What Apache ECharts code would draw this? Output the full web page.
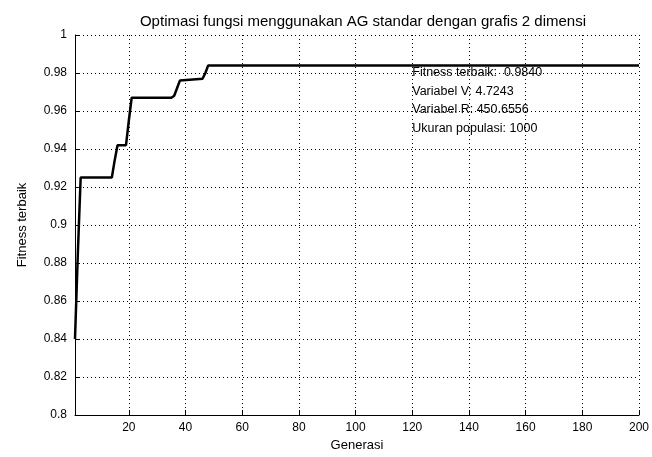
<!DOCTYPE html>
<html><head><meta charset="utf-8">
<script src="https://cdn.jsdelivr.net/npm/echarts@6/dist/echarts.min.js"></script>
<style>html,body{margin:0;padding:0;background:#fff}#c{width:652px;height:457px}</style>
</head><body><div id="c"></div>
<script>
const generations = [1, 2, 3, 14, 15, 16, 19, 20, 21, 35, 36, 37, 38, 46, 47, 48, 200];
const fitness = [0.840, 0.885, 0.925, 0.925, 0.934, 0.942, 0.942, 0.955, 0.967, 0.967, 0.968, 0.972, 0.976, 0.977, 0.980, 0.984, 0.984];
const xTicks = [20, 40, 60, 80, 100, 120, 140, 160, 180, 200];
const titleText = 'Optimasi fungsi menggunakan AG standar dengan grafis 2 dimensi';
const xName = 'Generasi';
const yName = 'Fitness terbaik';
const annotationLines = ['Fitness terbaik:  0.9840', 'Variabel V: 4.7243', 'Variabel R: 450.6556', 'Ukuran populasi: 1000'];
const annotationAnchor = [120, 0.98];

const FONT = 'Liberation Sans, Arial, sans-serif';
const chart = echarts.init(document.getElementById('c'), null, {renderer: 'canvas'});
const dotted = {color: '#000', width: 1, type: [1, 3]};

chart.setOption({
  animation: false,
  backgroundColor: '#fff',
  title: {
    text: titleText, left: 358, top: 9, textAlign: 'center',
    textStyle: {fontFamily: FONT, fontSize: 15, fontWeight: 'normal', color: '#000'}
  },
  grid: {left: 75, right: 11, top: 35, bottom: 42, containLabel: false},
  xAxis: {
    type: 'value', min: 1, max: 200,
    name: xName, nameLocation: 'middle', nameGap: 20,
    nameTextStyle: {fontFamily: FONT, fontSize: 13, color: '#000'},
    axisLine: {show: true, onZero: false, lineStyle: {color: '#000', width: 1}},
    axisTick: {show: true, inside: true, length: 5, customValues: xTicks, lineStyle: {color: '#000'}},
    axisLabel: {customValues: xTicks, margin: 7, fontFamily: FONT, fontSize: 12, color: '#000'},
    splitLine: {show: true, lineStyle: dotted}
  },
  yAxis: {
    type: 'value', min: 0.8, max: 1, interval: 0.02,
    name: yName, nameLocation: 'middle', nameGap: 46, nameRotate: 90,
    nameTextStyle: {fontFamily: FONT, fontSize: 13, color: '#000'},
    axisLine: {show: true, onZero: false, lineStyle: {color: '#000', width: 1}},
    axisTick: {show: true, inside: true, length: 5, lineStyle: {color: '#000'}},
    axisLabel: {margin: 8, fontFamily: FONT, fontSize: 12, color: '#000',
      formatter: v => String(+v.toFixed(2))},
    splitLine: {show: true, lineStyle: dotted}
  },
  series: [{
    type: 'line',
    data: generations.map((g, i) => [g, fitness[i]]),
    symbol: 'none',
    lineStyle: {color: '#000', width: 2.5},
    clip: true
  }]
});

const p = chart.convertToPixel({gridIndex: 0}, annotationAnchor);
chart.setOption({
  graphic: annotationLines.map((t, i) => ({
    type: 'text', x: p[0], y: p[1] + i * 18.5, z: 10,
    style: {text: t, fontFamily: FONT, fontSize: 12.5, fill: '#000', verticalAlign: 'middle', align: 'left'}
  }))
});
</script></body></html>
